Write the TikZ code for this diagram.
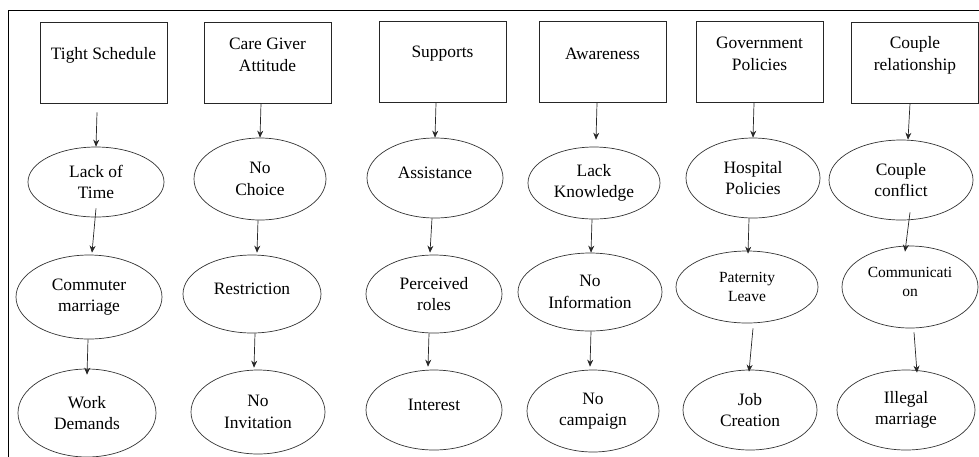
\documentclass[tikz,border=0pt]{standalone}
\usepackage{fontspec}
\setmainfont{Liberation Serif}
\usetikzlibrary{shapes.geometric,arrows.meta}
\begin{document}
\begin{tikzpicture}[x=1pt,y=-1pt,
  box/.style={draw=black!85,line width=0.8pt,rectangle,minimum width=127pt,minimum height=81pt,inner sep=0pt},
  btxt/.style={align=center,inner sep=0pt,font=\fontsize{17.4}{22}\selectfont},
  ell/.style={draw=black!80,line width=0.7pt,ellipse,inner sep=0pt,align=center,font=\fontsize{17.4}{21.5}\selectfont},
  small/.style={font=\fontsize{15.5}{18.5}\selectfont},
  one/.style={text depth=10pt},
  arr/.style={draw=black!85,line width=0.7pt,-{Stealth[length=7pt,width=6pt]}}]
\useasboundingbox (0,0) rectangle (979,456);
\draw[line width=0.9pt] (8,470) -- (8,10) -- (990,10);
% boxes
\node[box] (b1) at (103.5,62.5) {};
\node[box] (b2) at (267.5,62.5) {};
\node[box] (b3) at (442.5,62) {};
\node[box] (b4) at (602.5,62) {};
\node[box] (b5) at (759.5,62) {};
\node[box] (b6) at (915,62.5) {};
\node[btxt] (t1) at (103.5,55) {Tight Schedule};
\node[btxt] (t2) at (267.5,54.5) {Care Giver\\Attitude};
\node[btxt] (t3) at (442.5,53.5) {Supports};
\node[btxt] (t4) at (602.5,54) {Awareness};
\node[btxt] (t5) at (759.5,54) {Government\\Policies};
\node[btxt] (t6) at (915,55) {Couple\\relationship};
% row 1
\node[ell,minimum width=136pt,minimum height=70pt] (e1) at (96,182) {Lack of\\Time};
\node[ell,minimum width=132pt,minimum height=82pt] (e2) at (260,179) {No\\Choice};
\node[ell,one,minimum width=136pt,minimum height=80pt] (e3) at (435,178) {Assistance};
\node[ell,minimum width=132pt,minimum height=72pt] (e4) at (594,183) {Lack\\Knowledge};
\node[ell,minimum width=134pt,minimum height=80pt] (e5) at (753,178) {Hospital\\Policies};
\node[ell,minimum width=144pt,minimum height=80pt] (e6) at (901,180) {Couple\\conflict};
% row 2
\node[ell,minimum width=146pt,minimum height=84pt] (f1) at (89,297) {Commuter\\marriage};
\node[ell,one,minimum width=138pt,minimum height=78pt] (f2) at (252,294) {Restriction};
\node[ell,minimum width=136pt,minimum height=78pt] (f3) at (434,294) {Perceived\\roles};
\node[ell,minimum width=144pt,minimum height=78pt] (f4) at (590,292) {No\\Information};
\node[ell,small,minimum width=142pt,minimum height=72pt] (f5) at (747,287) {Paternity\\Leave};
\node[ell,small,minimum width=136pt,minimum height=82pt] (f6) at (910,287) {Communicati\\on\\[-8pt]};
% row 3
\node[ell,minimum width=138pt,minimum height=88pt] (g1) at (87,413) {Work\\Demands};
\node[ell,minimum width=134pt,minimum height=84pt] (g2) at (258,412) {No\\Invitation};
\node[ell,one,minimum width=136pt,minimum height=80pt] (g3) at (434,410) {Interest};
\node[ell,minimum width=132pt,minimum height=82pt] (g4) at (593,411) {No\\campaign};
\node[ell,minimum width=134pt,minimum height=80pt] (g5) at (750,410) {Job\\Creation};
\node[ell,minimum width=138pt,minimum height=80pt] (g6) at (906,410) {Illegal\\marriage};
% arrows box -> row 1
\draw[arr] ([xshift=-6.5pt,yshift=-9pt]b1.south) -- (e1.north);
\draw[arr] ([xshift=-6.5pt]b2.south) -- (e2.north);
\draw[arr] ([xshift=-6.5pt]b3.south) -- (e3.north);
\draw[arr] ([xshift=-5.5pt]b4.south) -- ([xshift=2pt,yshift=7pt]e4.north);
\draw[arr] ([xshift=-5.5pt]b5.south) -- (e5.north);
\draw[arr] ([xshift=-5pt]b6.south) -- ([xshift=7pt]e6.north);
% row 1 -> row 2
\draw[arr] ([yshift=9pt]e1.south) -- ([xshift=3pt,yshift=2pt]f1.north);
\draw[arr] ([xshift=-2pt]e2.south) -- ([xshift=5pt,yshift=2pt]f2.north);
\draw[arr] ([xshift=-3pt]e3.south) -- ([xshift=-4pt,yshift=2pt]f3.north);
\draw[arr] ([xshift=-2pt]e4.south) -- ([xshift=1pt]f4.north);
\draw[arr] ([xshift=-4pt]e5.south) -- ([xshift=1pt,yshift=-3pt]f5.north);
\draw[arr] ([xshift=9pt,yshift=8pt]e6.south) -- ([xshift=-5pt,yshift=-6pt]f6.north);
% row 2 -> row 3
\draw[arr] ([xshift=-1pt]f1.south) -- ([yshift=-6pt]g1.north);
\draw[arr] ([xshift=3pt]f2.south) -- ([xshift=-4pt,yshift=2pt]g2.north);
\draw[arr] ([xshift=-5pt]f3.south) -- ([xshift=-6pt,yshift=3pt]g3.north);
\draw[arr] ([xshift=1pt]f4.south) -- ([xshift=-3pt,yshift=3pt]g4.north);
\draw[arr] ([xshift=6pt,yshift=-5pt]f5.south) -- ([xshift=-1pt,yshift=-2pt]g5.north);
\draw[arr] ([xshift=4pt,yshift=-4pt]f6.south) -- ([xshift=11pt,yshift=-3pt]g6.north);
\end{tikzpicture}
\end{document}
